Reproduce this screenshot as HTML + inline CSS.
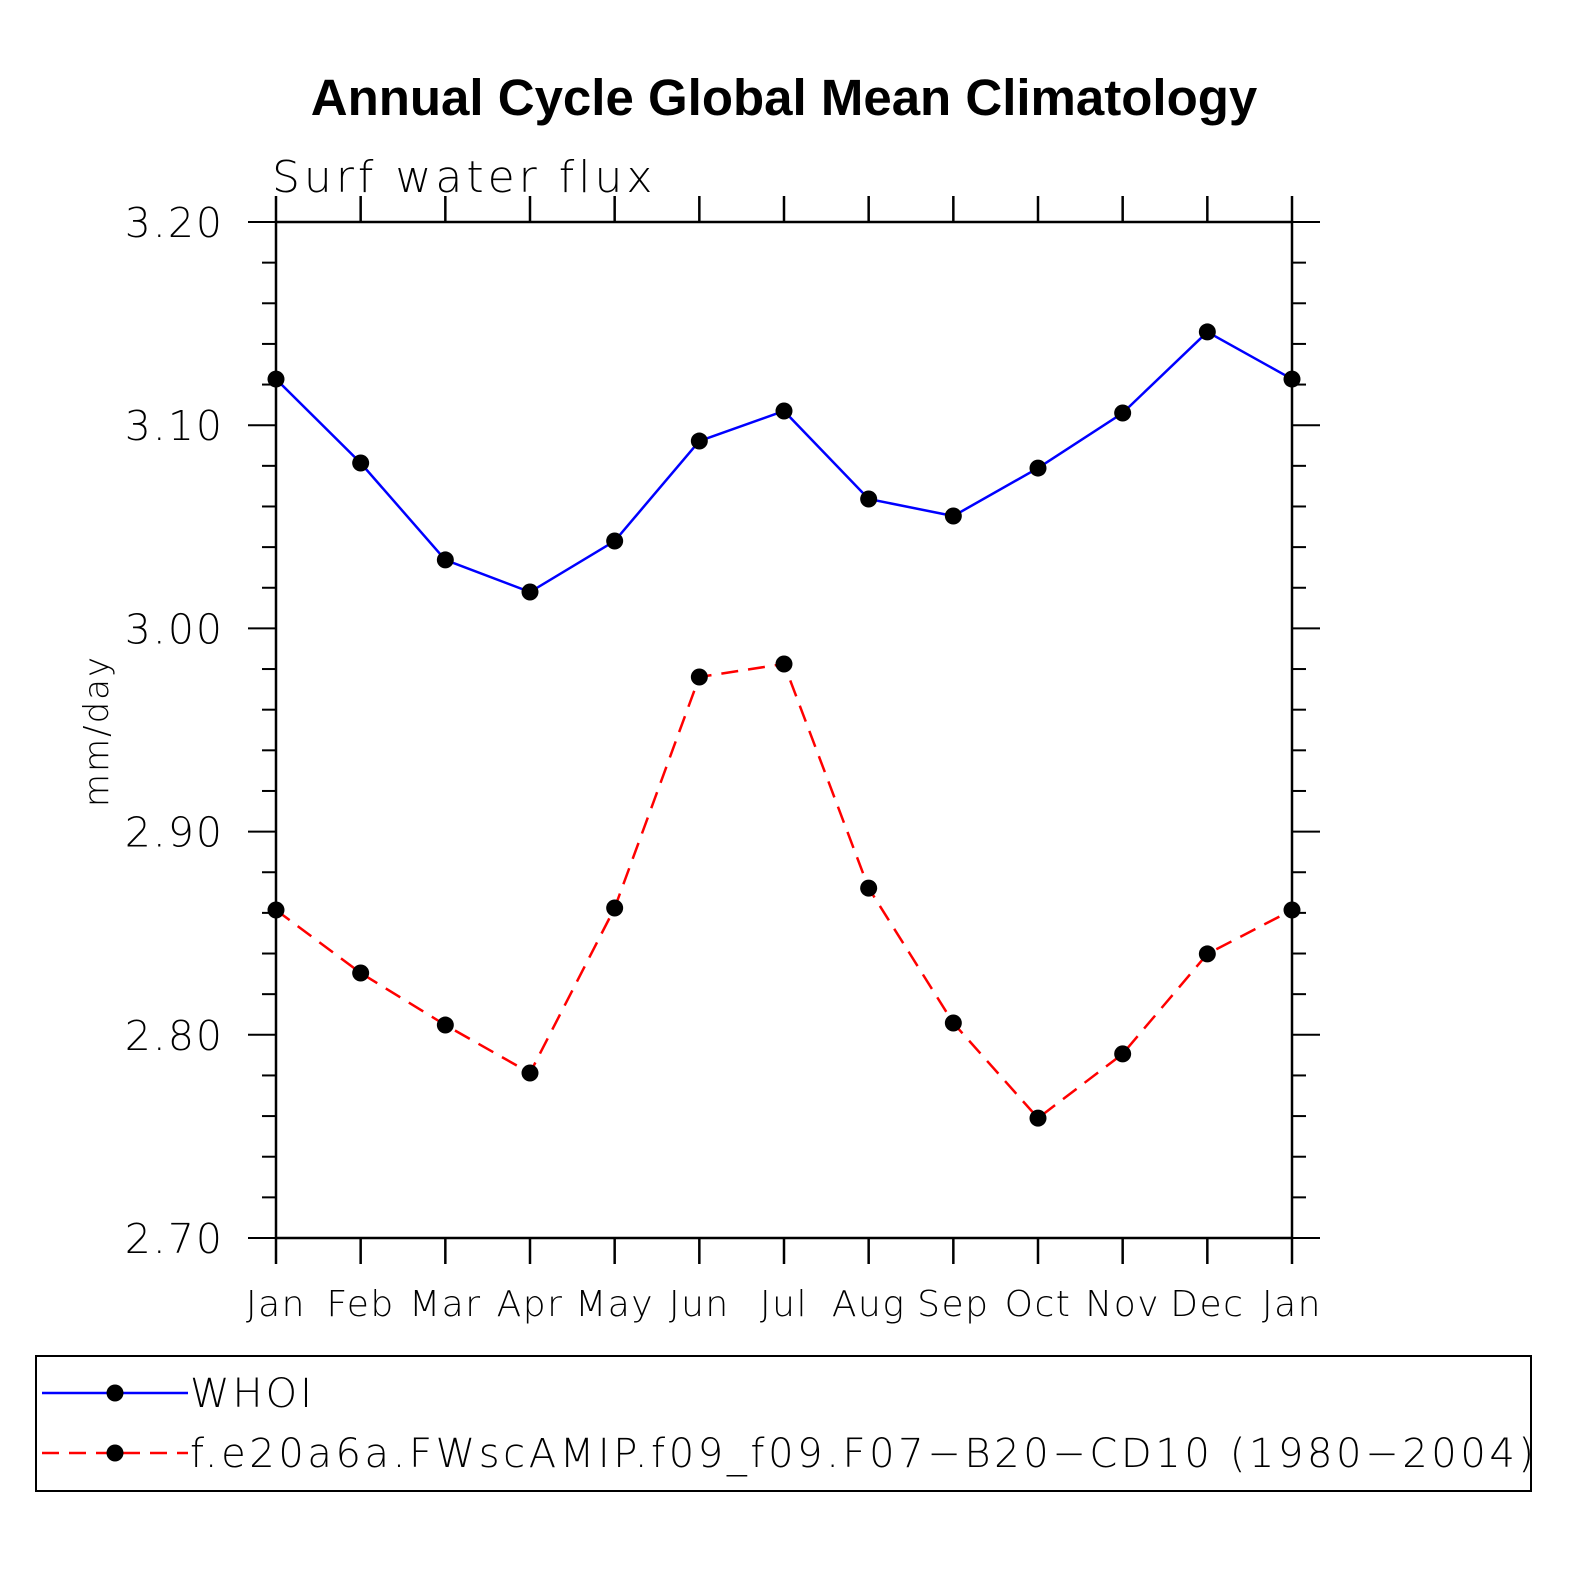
<!DOCTYPE html>
<html><head><meta charset="utf-8"><style>
html,body{margin:0;padding:0;background:#fff}
svg{display:block}
text{font-family:"DejaVu Sans","Liberation Sans",sans-serif;font-weight:200}
</style></head><body>
<svg id="chart" width="1574" height="1574" viewBox="0 0 1574 1574" xmlns="http://www.w3.org/2000/svg">
<rect width="1574" height="1574" fill="#fff"/>
<text x="784" y="115" text-anchor="middle" font-size="51" style="font-family:'Liberation Sans',sans-serif;font-weight:bold">Annual Cycle Global Mean Climatology</text>
<text x="272" y="192" font-size="44" letter-spacing="4">Surf water flux</text>
<text transform="translate(108,731) rotate(-90)" text-anchor="middle" font-size="34" letter-spacing="2">mm/day</text>
<g id="axes"></g>
<g id="series"></g>
<rect x="36" y="1356" width="1495" height="135" fill="none" stroke="#000" stroke-width="2"/>
<g>
<line x1="42" y1="1393" x2="188" y2="1393" stroke="#00f" stroke-width="2.5"/>
<circle cx="115" cy="1393" r="8.5" fill="#000"/>
<text x="190" y="1407" font-size="40" letter-spacing="3">WHOI</text>
</g>
<g>
<line x1="42" y1="1453" x2="188" y2="1453" stroke="#f00" stroke-width="2.5" stroke-dasharray="17,10"/>
<circle cx="115" cy="1453" r="8.5" fill="#000"/>
<text x="190" y="1467" font-size="40" letter-spacing="3.6">f.e20a6a.FWscAMIP.f09_f09.F07−B20−CD10 (1980−2004)</text>
</g>
</svg>
<script>
const months = ["Jan","Feb","Mar","Apr","May","Jun","Jul","Aug","Sep","Oct","Nov","Dec","Jan"];
const whoi = [3.1227,3.0814,3.0337,3.0179,3.0430,3.0922,3.1070,3.0637,3.0553,3.0789,3.1060,3.1459,3.1227];
const model = [2.8614,2.8304,2.8048,2.7812,2.8624,2.9761,2.9825,2.8722,2.8058,2.7590,2.7906,2.8398,2.8614];
const yTicks = ["2.70","2.80","2.90","3.00","3.10","3.20"];

const NS="http://www.w3.org/2000/svg";
const X0=276,X1=1292,Y0=1238,Y1=222,YMIN=2.7,YMAX=3.2;
const xs=i=>X0+(X1-X0)*i/(months.length-1);
const ys=v=>Y0-(v-YMIN)/(YMAX-YMIN)*(Y0-Y1);
function mk(tag,attrs,parent){const e=document.createElementNS(NS,tag);for(const k in attrs)e.setAttribute(k,attrs[k]);parent.appendChild(e);return e;}
const axes=document.getElementById('axes'), ser=document.getElementById('series');
const frame=mk('rect',{x:X0,y:Y1,width:X1-X0,height:Y0-Y1,fill:'none',stroke:'#000','stroke-width':2.5},axes);


months.forEach((m,i)=>{
  const x=xs(i);
  mk('line',{x1:x,y1:Y0,x2:x,y2:Y0+26,stroke:'#000','stroke-width':2.5},axes);
  mk('line',{x1:x,y1:Y1,x2:x,y2:Y1-26,stroke:'#000','stroke-width':2.5},axes);
  const t=mk('text',{x:x,y:1316,'text-anchor':'middle','font-size':36,'letter-spacing':1.5},axes);
  t.textContent=m;
  
  
});
for(let k=0;k<=25;k++){
  const v=YMIN+k*0.02, y=ys(v), major=k%5===0, L=major?28:14;
  mk('line',{x1:X0-L,y1:y,x2:X0,y2:y,stroke:'#000','stroke-width':2},axes);
  mk('line',{x1:X1,y1:y,x2:X1+L,y2:y,stroke:'#000','stroke-width':2},axes);
}
yTicks.forEach(s=>{
  const t=mk('text',{x:224,y:ys(parseFloat(s))+15,'text-anchor':'end','font-size':41,'letter-spacing':2},axes);
  t.textContent=s;
  
  
});
function draw(vals,color,dash,name){
  const pts=vals.map((v,i)=>xs(i)+','+ys(v)).join(' ');
  const l=mk('polyline',{points:pts,fill:'none',stroke:color,'stroke-width':2.5},ser);
  if(dash)l.setAttribute('stroke-dasharray',dash);
  
  
  vals.forEach((v,i)=>{
    const c=mk('circle',{cx:xs(i),cy:ys(v),r:8.5,fill:'#000'},ser);
    
    
  });
}
draw(whoi,'#00f',null,'whoi');
draw(model,'#f00','17,10','model');
</script>
</body></html>
